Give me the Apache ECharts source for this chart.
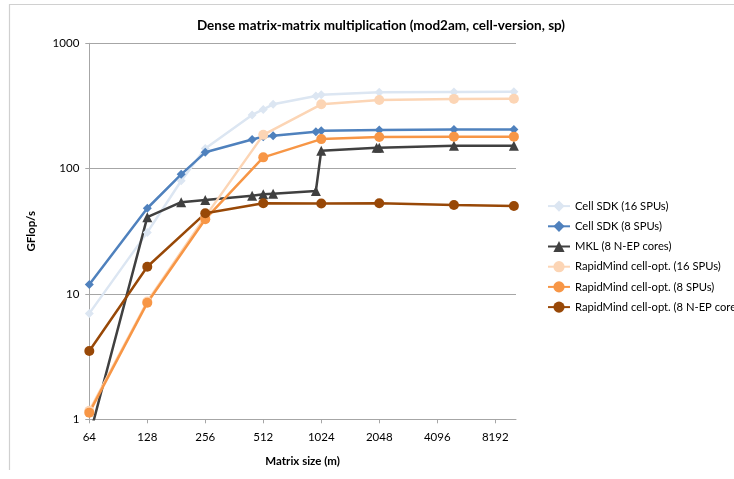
<!DOCTYPE html>
<html>
<head>
<meta charset="utf-8">
<script src="https://cdn.jsdelivr.net/npm/echarts@6/dist/echarts.min.js"></script>
<style>
html,body{margin:0;padding:0;background:#fff;}
#c{width:734px;height:479px;}
</style>
</head>
<body>
<div id="c"></div>
<script>
// ---- data ----
var xTicks = [64, 128, 256, 512, 1024, 2048, 4096, 8192];
var xSdk = [64, 128, 192, 256, 448, 512, 576, 960, 1024, 2048, 5000, 10240];
var xMkl = [64, 128, 192, 256, 448, 512, 576, 960, 1024, 1984, 2048, 5000, 10240];
var xRm  = [64, 128, 256, 512, 1024, 2048, 5000, 10240];

var cellSdk16 = [7.0, 31, 80, 145, 268, 297, 326, 380, 389, 406, 409, 410];
var cellSdk8  = [11.9, 48.3, 90, 135, 171, 180, 183, 197, 201, 203, 205, 205];
var mkl8      = [0.72, 41, 54, 56.2, 60.8, 62.4, 63.1, 66.3, 139, 147, 147, 152, 152];
var rm16      = [1.17, 8.7, 41.4, 186, 326, 353, 360, 361];
var rm8       = [1.13, 8.5, 39.5, 123, 172, 179, 180, 180];
var rm8nep    = [3.51, 16.5, 44, 52.9, 52.7, 53, 51.3, 50.3];

var seriesNames = [
  'Cell SDK (16 SPUs)',
  'Cell SDK (8 SPUs)',
  'MKL (8 N-EP cores)',
  'RapidMind cell-opt. (16 SPUs)',
  'RapidMind cell-opt. (8 SPUs)',
  'RapidMind cell-opt. (8 N-EP cores)'
];

function pairs(xs, ys) {
  return xs.map(function (x, i) { return [x, ys[i]]; });
}

var FONT = 'Lato, "Open Sans", sans-serif';

function mk(name, xs, ys, color, symbol, size) {
  return {
    name: name,
    type: 'line',
    data: pairs(xs, ys),
    symbol: symbol,
    symbolSize: size,
    showAllSymbol: true,
    clip: true,
    itemStyle: { color: color },
    lineStyle: { color: color, width: 2.5 },
    emphasis: { disabled: true },
    animation: false
  };
}

function plain(v) { return String(Math.round(v)); }

var chart = echarts.init(document.getElementById('c'), null, { renderer: 'canvas' });
chart.setOption({
  backgroundColor: '#ffffff',
  animation: false,
  textStyle: { fontFamily: FONT },
  title: {
    text: 'Dense matrix-matrix multiplication (mod2am, cell-version, sp)',
    left: 376,
    top: 14,
    textAlign: 'center',
    textStyle: { fontFamily: FONT, fontSize: 13.5, fontWeight: 'bold', color: '#000' }
  },
  grid: { left: 89.3, right: 218, top: 43.3, bottom: 59.7, containLabel: false },
  legend: {
    orient: 'vertical',
    left: 542,
    top: 195.5,
    itemWidth: 22,
    itemHeight: 14,
    itemGap: 9,
    textStyle: { fontFamily: FONT, fontSize: 11.2, color: '#000' },
    data: seriesNames
  },
  xAxis: {
    type: 'log',
    logBase: 2,
    min: 64,
    max: 10500,
    name: 'Matrix size (m)',
    nameLocation: 'middle',
    nameGap: 36,
    nameTextStyle: { fontFamily: FONT, fontSize: 11.5, fontWeight: 'bold', color: '#000' },
    axisLine: { lineStyle: { color: '#a6a6a6', width: 1 } },
    axisTick: { show: true, length: 4, inside: false, lineStyle: { color: '#a6a6a6' }, customValues: xTicks },
    axisLabel: { fontFamily: FONT, fontSize: 11.5, color: '#000', margin: 12, customValues: xTicks, formatter: plain },
    splitLine: { show: false },
    minorTick: { show: false }
  },
  yAxis: {
    type: 'log',
    logBase: 10,
    min: 1,
    max: 1000,
    name: 'GFlop/s',
    nameLocation: 'middle',
    nameGap: 52,
    nameTextStyle: { fontFamily: FONT, fontSize: 11.5, fontWeight: 'bold', color: '#000' },
    axisLine: { show: true, lineStyle: { color: '#a6a6a6', width: 1 } },
    axisTick: { show: true, length: 4, lineStyle: { color: '#a6a6a6' } },
    axisLabel: { fontFamily: FONT, fontSize: 11.5, color: '#000', margin: 10, formatter: plain },
    splitLine: { show: true, lineStyle: { color: '#a6a6a6', width: 1 } }
  },
  graphic: [{
    type: 'polyline',
    shape: { points: [[9.5, 470], [9.5, 4.5], [740, 4.5]] },
    style: { stroke: '#d0d0d0', lineWidth: 1.2, fill: null },
    silent: true
  }],
  series: [
    mk(seriesNames[0], xSdk, cellSdk16, '#dce6f2', 'diamond', 9),
    mk(seriesNames[1], xSdk, cellSdk8, '#4f81bd', 'diamond', 9),
    mk(seriesNames[2], xMkl, mkl8, '#404040', 'triangle', 10),
    mk(seriesNames[3], xRm, rm16, '#fcd5b5', 'circle', 10),
    mk(seriesNames[4], xRm, rm8, '#f79646', 'circle', 10),
    mk(seriesNames[5], xRm, rm8nep, '#984807', 'circle', 10)
  ]
});
</script>
</body>
</html>
